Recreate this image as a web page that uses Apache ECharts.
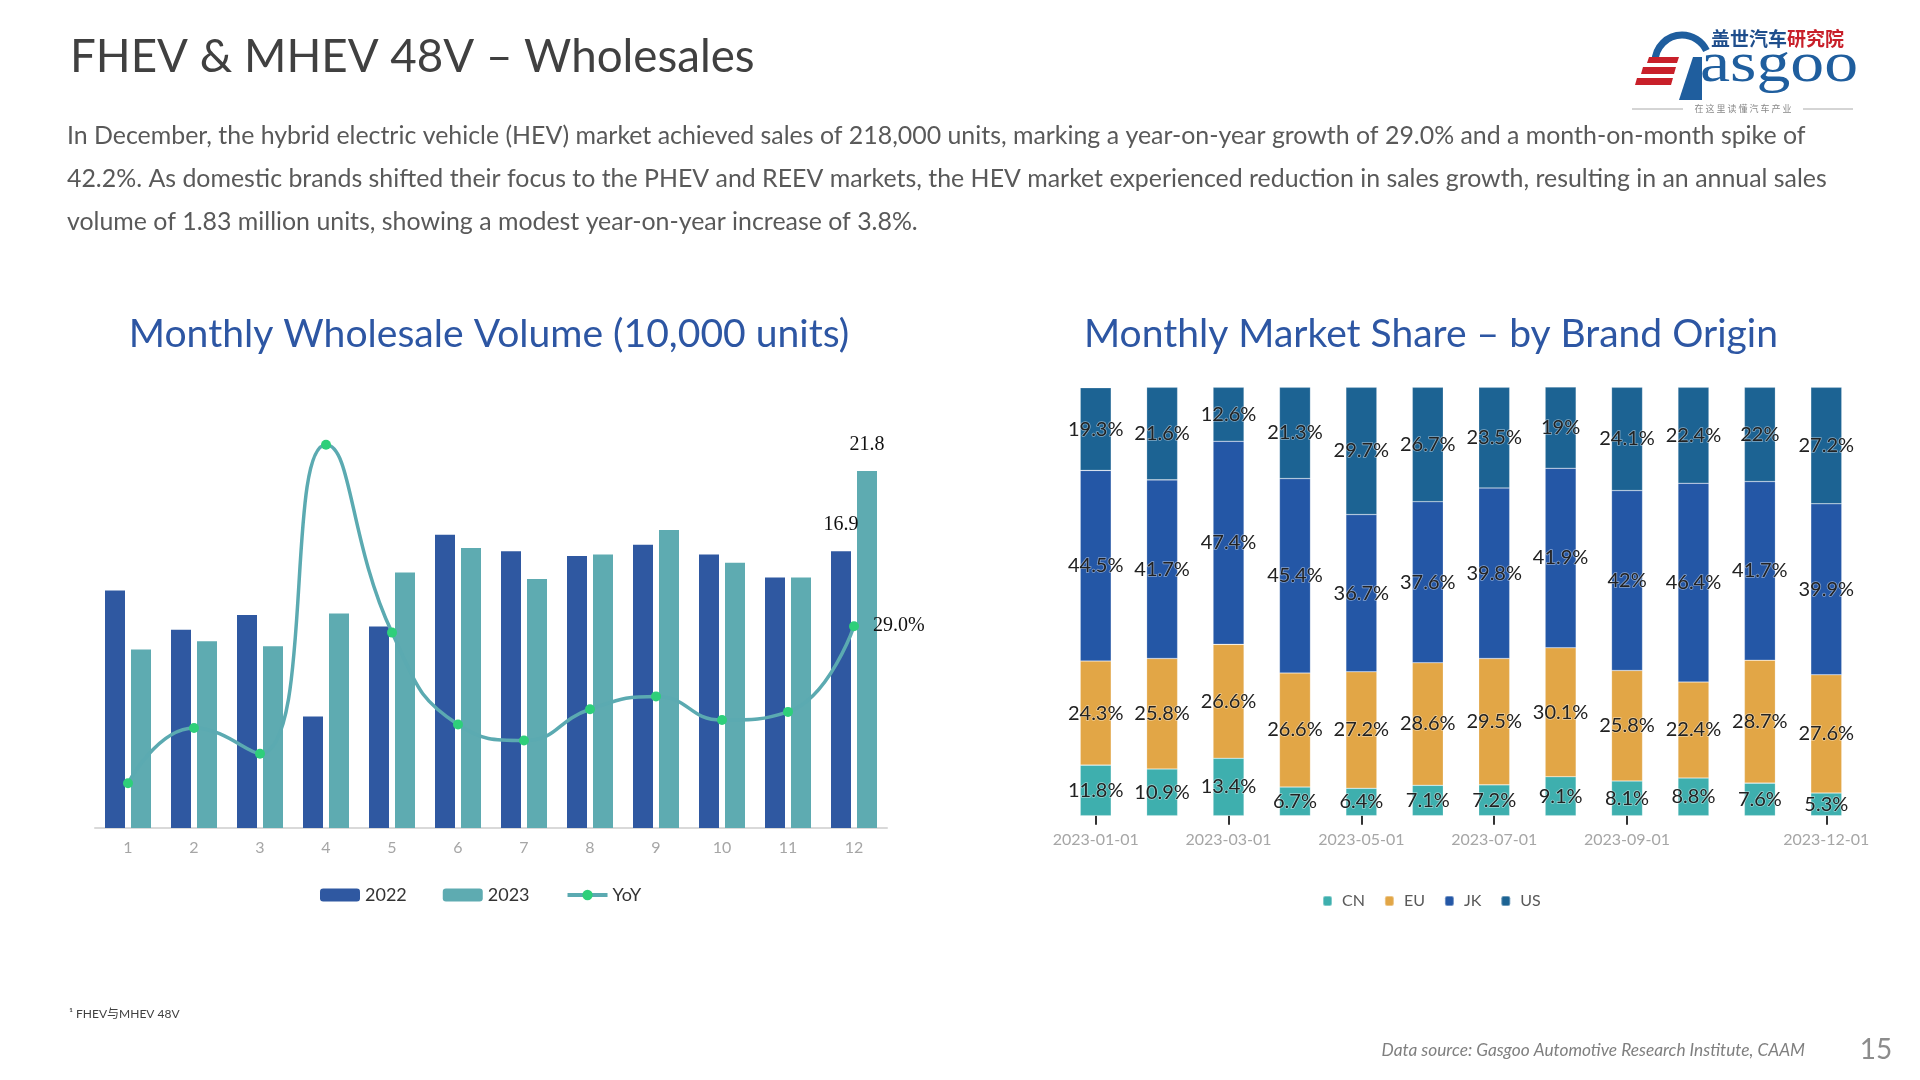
<!DOCTYPE html>
<html>
<head>
<meta charset="utf-8">
<script src="https://cdn.jsdelivr.net/npm/echarts@6/dist/echarts.min.js"></script>
<style>
html,body{margin:0;padding:0;background:#fff;}
#c{width:1920px;height:1080px;}
</style>
</head>
<body>
<div id="c"></div>
<script>
// ---------- data ----------
const months = ['1','2','3','4','5','6','7','8','9','10','11','12'];
const sales2022 = [14.5, 12.1, 13.0, 6.8, 12.3, 17.9, 16.9, 16.6, 17.3, 16.7, 15.3, 16.9];
const sales2023 = [10.9, 11.4, 11.1, 13.1, 15.6, 17.1, 15.2, 16.7, 18.2, 16.2, 15.3, 21.8];
const yoy = [-24.7, -5.8, -14.6, 91.0, 26.8, -4.6, -10.1, 0.6, 5.0, -3.1, -0.3, 29.0];

const shareMonths = ['2023-01-01','2023-02-01','2023-03-01','2023-04-01','2023-05-01','2023-06-01',
                     '2023-07-01','2023-08-01','2023-09-01','2023-10-01','2023-11-01','2023-12-01'];
const shareCN = [11.8, 10.9, 13.4, 6.7, 6.4, 7.1, 7.2, 9.1, 8.1, 8.8, 7.6, 5.3];
const shareEU = [24.3, 25.8, 26.6, 26.6, 27.2, 28.6, 29.5, 30.1, 25.8, 22.4, 28.7, 27.6];
const shareJK = [44.5, 41.7, 47.4, 45.4, 36.7, 37.6, 39.8, 41.9, 42, 46.4, 41.7, 39.9];
const shareUS = [19.3, 21.6, 12.6, 21.3, 29.7, 26.7, 23.5, 19, 24.1, 22.4, 22, 27.2];
const shareTickIdx = [0, 2, 4, 6, 8, 11];

// ---------- text fitting helper ----------
const mctx = document.createElement('canvas').getContext('2d');
function measure(text, size, family, weight, style) {
  mctx.font = (style || 'normal') + ' ' + (weight || 'normal') + ' ' + size + 'px ' + family;
  return mctx.measureText(text).width;
}
function fit(text, family, target, weight, style) {
  const w = measure(text, 100, family, weight, style);
  return Math.round(1000 * target / w) / 10;
}

const SANS = 'Lato';
const CJK = 'Lato, "Noto Sans CJK SC", sans-serif';

const headTitle = 'FHEV & MHEV 48V \u2013 Wholesales';
const para = [
  'In December, the hybrid electric vehicle (HEV) market achieved sales of 218,000 units, marking a year-on-year growth of 29.0% and a month-on-month spike of',
  '42.2%. As domestic brands shifted their focus to the PHEV and REEV markets, the HEV market experienced reduction in sales growth, resulting in an annual sales',
  'volume of 1.83 million units, showing a modest year-on-year increase of 3.8%.'
];
const leftTitle = 'Monthly Wholesale Volume (10,000 units)';
const rightTitle = 'Monthly Market Share \u2013 by Brand Origin';
const footnote = '\u00b9 FHEV\u4e0eMHEV 48V';
const source = 'Data source: Gasgoo Automotive Research Institute, CAAM';

const headSize = fit(headTitle, SANS, 685);
const paraSize = fit(para[0], SANS, 1740);
const ltSize = fit(leftTitle, SANS, 720);
const rtSize = fit(rightTitle, SANS, 694);
const srcSize = fit(source, SANS, 425, 'normal', 'italic');
const asgooSize = 56;
const asgooScale = 158 / measure('asgoo', asgooSize, '"Liberation Serif"');

const tickFn = function (i) { return shareTickIdx.indexOf(i) >= 0; };

const shareColors = {CN: '#3EAFAE', EU: '#E2A646', JK: '#2457A6', US: '#1C6393'};
const shareData = {CN: shareCN, EU: shareEU, JK: shareJK, US: shareUS};

function shareSeries(name) {
  return {
    name: name, type: 'bar', stack: 'share', xAxisIndex: 1, yAxisIndex: 2,
    barWidth: 31, data: shareData[name],
    itemStyle: {color: shareColors[name], borderColor: 'rgba(255,255,255,0.35)', borderWidth: 0.6},
    label: {
      show: true, position: 'inside', formatter: '{c}%', fontFamily: SANS, fontSize: 20,
      color: '#222', textBorderColor: 'rgba(255,255,255,0.45)', textBorderWidth: 1.5
    }
  };
}

const barLabel = {show: true, position: 'top', distance: 16, fontFamily: '"Liberation Serif", serif', fontSize: 20, color: '#111'};

const option = {
  animation: false,
  backgroundColor: '#ffffff',
  textStyle: {fontFamily: CJK},
  grid: [
    {left: 95, top: 418.5, width: 792, height: 409.5},
    {left: 1062.5, top: 387.3, width: 797, height: 428.4}
  ],
  xAxis: [
    {
      type: 'category', gridIndex: 0, data: months,
      axisLine: {lineStyle: {color: '#d9d9d9', width: 2}},
      axisTick: {show: false},
      axisLabel: {color: '#a6a6a6', fontSize: 16, margin: 12, fontFamily: SANS}
    },
    {
      type: 'category', gridIndex: 1, data: shareMonths,
      axisLine: {show: false},
      axisTick: {show: true, alignWithLabel: true, interval: tickFn, length: 9, lineStyle: {color: '#333', width: 2}},
      axisLabel: {interval: tickFn, color: '#a6a6a6', fontSize: 16, margin: 16, fontFamily: SANS}
    }
  ],
  yAxis: [
    {type: 'value', gridIndex: 0, min: 0, max: 25, show: false},
    {type: 'value', gridIndex: 0, min: -40, max: 100, show: false},
    {type: 'value', gridIndex: 1, min: 0, max: 100, show: false}
  ],
  legend: [
    {
      data: ['2022', '2023', 'YoY'], left: 315, top: 881, itemWidth: 40, itemHeight: 13, itemGap: 36,
      lineStyle: {width: 4},
      textStyle: {fontSize: 18, color: '#333', fontFamily: SANS}
    },
    {
      data: ['CN', 'EU', 'JK', 'US'], left: 1317, top: 888, icon: 'roundRect', itemWidth: 9, itemHeight: 10, itemGap: 19,
      textStyle: {fontSize: 16, color: '#595959', fontFamily: SANS, padding: [0, 0, 0, 5]}
    }
  ],
  series: [
    {
      name: '2022', type: 'bar', xAxisIndex: 0, yAxisIndex: 0, barWidth: 20, barGap: '30%',
      itemStyle: {color: '#2F58A1'},
      data: sales2022.map(function (v, i) { return i === sales2022.length - 1 ? {value: v, label: barLabel} : v; })
    },
    {
      name: '2023', type: 'bar', xAxisIndex: 0, yAxisIndex: 0, barWidth: 20, barGap: '30%',
      itemStyle: {color: '#5EABB1'},
      data: sales2023.map(function (v, i) { return i === sales2023.length - 1 ? {value: v, label: barLabel} : v; })
    },
    {
      name: 'YoY', type: 'line', xAxisIndex: 0, yAxisIndex: 1, smooth: true, z: 5,
      symbol: 'circle', symbolSize: 10,
      lineStyle: {color: '#5BAAB1', width: 3.5},
      itemStyle: {color: '#2ECF7A'},
      data: yoy.map(function (v, i) {
        return i === yoy.length - 1 ? {
          value: v,
          label: {show: true, position: 'right', distance: 14, formatter: function (p) { return p.value.toFixed(1) + '%'; },
                  fontFamily: '"Liberation Serif", serif', fontSize: 20, color: '#111'}
        } : v;
      })
    },
    shareSeries('CN'), shareSeries('EU'), shareSeries('JK'), shareSeries('US')
  ],
  graphic: [
    {type: 'text', x: 70, y: 57, style: {text: headTitle, fontFamily: SANS, fontSize: headSize, fill: '#404040', verticalAlign: 'middle', align: 'left'}},
    {type: 'text', x: 67, y: 136, style: {text: para[0], fontFamily: SANS, fontSize: paraSize, fill: '#595959', verticalAlign: 'middle'}},
    {type: 'text', x: 67, y: 179, style: {text: para[1], fontFamily: SANS, fontSize: paraSize, fill: '#595959', verticalAlign: 'middle'}},
    {type: 'text', x: 67, y: 222, style: {text: para[2], fontFamily: SANS, fontSize: paraSize, fill: '#595959', verticalAlign: 'middle'}},
    {type: 'text', x: 489, y: 334, style: {text: leftTitle, fontFamily: SANS, fontSize: ltSize, fill: '#2D56A3', align: 'center', verticalAlign: 'middle'}},
    {type: 'text', x: 1431, y: 334, style: {text: rightTitle, fontFamily: SANS, fontSize: rtSize, fill: '#2D56A3', align: 'center', verticalAlign: 'middle'}},
    {type: 'text', x: 69, y: 1014, style: {text: footnote, fontFamily: CJK, fontSize: 12, fill: '#404040', verticalAlign: 'middle'}},
    {type: 'text', x: 1805, y: 1050, style: {text: source, fontFamily: SANS, fontStyle: 'italic', fontSize: srcSize, fill: '#7f7f7f', align: 'right', verticalAlign: 'middle'}},
    {type: 'text', x: 1876, y: 1050, style: {text: '15', fontFamily: SANS, fontSize: 28, fill: '#8c8c8c', align: 'center', verticalAlign: 'middle'}},
    // logo
    {type: 'arc', shape: {cx: 1682, cy: 62, r: 27, startAngle: Math.PI, endAngle: Math.PI * 1.86, clockwise: true},
     style: {stroke: '#1F5E9E', lineWidth: 7, fill: null}},
    {type: 'polygon', shape: {points: [[1679, 100], [1702, 100], [1702, 57], [1693, 57]]}, style: {fill: '#1F5E9E'}},
    {type: 'polygon', shape: {points: [[1649, 57], [1679, 57], [1677, 63], [1647, 63]]}, style: {fill: '#C8202A'}},
    {type: 'polygon', shape: {points: [[1643, 67], [1676, 67], [1674, 74], [1641, 74]]}, style: {fill: '#C8202A'}},
    {type: 'polygon', shape: {points: [[1637, 78], [1673, 78], [1671, 85], [1635, 85]]}, style: {fill: '#C8202A'}},
    {type: 'text', x: 1700, y: 66, scaleX: asgooScale, style: {text: 'asgoo', fontFamily: '"Liberation Serif", serif', fontSize: asgooSize, fill: '#1F5E9E', verticalAlign: 'middle'}},
    {type: 'text', x: 1711, y: 39, style: {
      text: '{a|\u76d6\u4e16\u6c7d\u8f66}{b|\u7814\u7a76\u9662}', verticalAlign: 'middle',
      rich: {a: {fontFamily: '"Noto Sans CJK SC"', fontWeight: 'bold', fontSize: 19, fill: '#1F4E8C', color: '#1F4E8C'},
             b: {fontFamily: '"Noto Sans CJK SC"', fontWeight: 'bold', fontSize: 19, fill: '#C8202A', color: '#C8202A'}}
    }},
    {type: 'line', shape: {x1: 1632, y1: 109, x2: 1683, y2: 109}, style: {stroke: '#aaaaaa', lineWidth: 1}},
    {type: 'line', shape: {x1: 1803, y1: 109, x2: 1853, y2: 109}, style: {stroke: '#aaaaaa', lineWidth: 1}},
    {type: 'text', x: 1743, y: 109, style: {text: '\u5728 \u8fd9 \u91cc \u8bfb \u61c2 \u6c7d \u8f66 \u4ea7 \u4e1a', fontFamily: '"Noto Sans CJK SC"', fontSize: 9, fill: '#888888', align: 'center', verticalAlign: 'middle'}}
  ]
};

const chart = echarts.init(document.getElementById('c'), null, {renderer: 'canvas', width: 1920, height: 1080});
chart.setOption(option);
</script>
</body>
</html>
